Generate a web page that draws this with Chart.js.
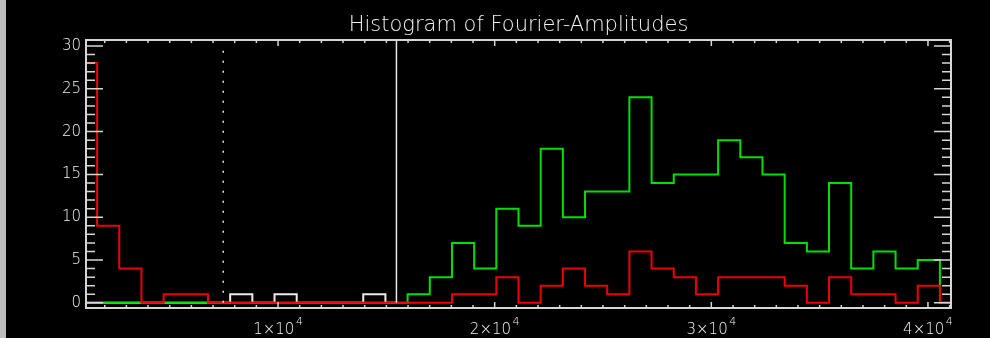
<!DOCTYPE html>
<html>
<head>
<meta charset="utf-8">
<script src="https://cdn.jsdelivr.net/npm/chart.js@4/dist/chart.umd.min.js"></script>
<style>
  html, body { margin: 0; padding: 0; background: #000; }
  canvas { display: block; }
</style>
</head>
<body>
<canvas id="hist" width="990" height="338"></canvas>
<script>
// Bin centres of the amplitude histogram (40 bins)
const binCenters = [
  1135, 2159, 3183, 4206, 5230, 6254, 7278, 8302, 9325, 10349,
  11373, 12397, 13421, 14444, 15468, 16492, 17516, 18540, 19563, 20587,
  21611, 22635, 23659, 24682, 25706, 26730, 27754, 28778, 29801, 30825,
  31849, 32873, 33897, 34920, 35944, 36968, 37992, 39016, 40039, 41063
];

// Counts per bin for each of the three histograms
const redCounts = [
  28, 9, 4, 0, 1, 1, 0, 0, 0, 0,
  0, 0, 0, 0, 0, 0, 0, 1, 1, 3,
  0, 2, 4, 2, 1, 6, 4, 3, 1, 3,
  3, 3, 2, 0, 3, 1, 1, 0, 2, 0
];
const greenCounts = [
  0, 0, 0, 0, 0, 0, 0, 0, 0, 0,
  0, 0, 0, 0, 0, 1, 3, 7, 4, 11,
  9, 18, 10, 13, 13, 24, 14, 15, 15, 19,
  17, 15, 7, 6, 14, 4, 6, 4, 5, 0
];
// the white histogram only covers amplitudes below the solid threshold
const whiteCounts = [
  0, 0, 0, 0, 0, 0, 0, 1, 0, 1,
  0, 0, 0, 1, 0
];

// Tick values and threshold markers
const xTickValues = [10000, 20000, 30000, 40000];
const yTickValues = [0, 5, 10, 15, 20, 25, 30];
const dottedMarker = 7470;
const solidMarker = 15465;
const titleText = 'Histogram of Fourier-Amplitudes';

const xRange = [1135, 41063];
const yRange = [-0.6, 30.7];

const TEXT = '#f4f4f4';
const AXIS = '#d6d6d6';
const FONT = '"DejaVu Sans", sans-serif';
const WEIGHT = '200';

function series(counts) {
  return counts.map((c, i) => ({ x: binCenters[i], y: c }));
}

// Background, boxed axes with inward ticks, markers, title and x labels
const idlFrame = {
  id: 'idlFrame',
  beforeDraw(chart) {
    const ctx = chart.ctx;
    ctx.save();
    ctx.fillStyle = '#000';
    ctx.fillRect(0, 0, chart.width, chart.height);
    ctx.fillStyle = '#bdbdbd';
    ctx.fillRect(0, 0, 6, chart.height);
    ctx.restore();
  },
  afterDatasetsDraw(chart) {
    const ctx = chart.ctx;
    const a = chart.chartArea;
    const xs = chart.scales.x;
    const ys = chart.scales.y;
    ctx.save();

    // threshold markers
    const yZero = ys.getPixelForValue(0);
    ctx.strokeStyle = '#e6e6e6';
    ctx.lineWidth = 1.5;
    let px = xs.getPixelForValue(solidMarker);
    ctx.beginPath();
    ctx.moveTo(px, yZero);
    ctx.lineTo(px, a.top);
    ctx.stroke();
    px = xs.getPixelForValue(dottedMarker);
    ctx.setLineDash([2, 8]);
    ctx.beginPath();
    ctx.moveTo(px, yZero);
    ctx.lineTo(px, a.top + 3);
    ctx.stroke();
    ctx.setLineDash([]);

    // frame
    ctx.strokeStyle = AXIS;
    ctx.lineWidth = 2;
    ctx.strokeRect(a.left, a.top, a.right - a.left, a.bottom - a.top);

    // y ticks (left and right, pointing inward)
    ctx.lineWidth = 1.5;
    ctx.beginPath();
    for (let v = Math.ceil(ys.min); v <= ys.max; v++) {
      const len = v % 5 === 0 ? 17 : 9;
      const py = ys.getPixelForValue(v);
      ctx.moveTo(a.left, py); ctx.lineTo(a.left + len, py);
      ctx.moveTo(a.right, py); ctx.lineTo(a.right - len, py);
    }
    // x ticks (bottom and top, pointing inward)
    for (let v = Math.ceil(xs.min / 1000) * 1000; v <= xs.max; v += 1000) {
      const len = v % 10000 === 0 ? 6 : 3;
      const pxx = xs.getPixelForValue(v);
      ctx.moveTo(pxx, a.bottom); ctx.lineTo(pxx, a.bottom - len);
      ctx.moveTo(pxx, a.top); ctx.lineTo(pxx, a.top + len);
    }
    ctx.stroke();

    // x tick labels written as m×10^4
    ctx.fillStyle = TEXT;
    ctx.textBaseline = 'alphabetic';
    ctx.textAlign = 'left';
    xs.ticks.forEach(t => {
      const exp = Math.floor(Math.log10(t.value));
      const mant = Math.round(t.value / Math.pow(10, exp));
      const main = mant + '\u00d710';
      const sup = String(exp);
      ctx.font = WEIGHT + ' 15px ' + FONT;
      const wMain = ctx.measureText(main).width;
      ctx.font = WEIGHT + ' 11px ' + FONT;
      const wSup = ctx.measureText(sup).width;
      const total = wMain + 1.5 + wSup;
      const cx = xs.getPixelForValue(t.value);
      const x0 = cx - total / 2;
      ctx.font = WEIGHT + ' 15px ' + FONT;
      ctx.fillText(main, x0, 334);
      ctx.font = WEIGHT + ' 11px ' + FONT;
      ctx.fillText(sup, x0 + wMain + 1.5, 325);
    });

    // title
    ctx.font = WEIGHT + ' 21px ' + FONT;
    ctx.textAlign = 'center';
    ctx.fillText(titleText, (a.left + a.right) / 2, 31);

    ctx.restore();
  }
};

const lineStyle = {
  stepped: 'middle',
  borderWidth: 2,
  pointRadius: 0,
  fill: false,
  borderJoinStyle: 'miter',
  borderCapStyle: 'butt'
};

new Chart(document.getElementById('hist'), {
  type: 'line',
  data: {
    datasets: [
      Object.assign({ label: 'red', data: series(redCounts), borderColor: '#ee0000', order: 0 }, lineStyle),
      Object.assign({ label: 'green', data: series(greenCounts), borderColor: '#00e000', order: 1 }, lineStyle),
      Object.assign({ label: 'white', data: series(whiteCounts), borderColor: '#ececec', order: 2 }, lineStyle)
    ]
  },
  options: {
    responsive: false,
    animation: false,
    devicePixelRatio: 1,
    layout: { padding: { top: 40, right: 39, left: 0, bottom: 0 } },
    plugins: {
      legend: { display: false },
      tooltip: { enabled: false },
      title: { display: false }
    },
    scales: {
      x: {
        type: 'linear',
        min: xRange[0],
        max: xRange[1],
        grid: { display: false, drawTicks: false },
        border: { display: false },
        ticks: { display: false, includeBounds: false },
        afterBuildTicks: s => { s.ticks = xTickValues.map(v => ({ value: v })); },
        afterFit: s => { s.height = 30; }
      },
      y: {
        type: 'linear',
        min: yRange[0],
        max: yRange[1],
        grid: { display: false, drawTicks: false },
        border: { display: false },
        ticks: {
          includeBounds: false,
          color: TEXT,
          padding: 5,
          font: { family: FONT, size: 15, weight: WEIGHT }
        },
        afterBuildTicks: s => { s.ticks = yTickValues.map(v => ({ value: v })); },
        afterFit: s => { s.width = 86; }
      }
    }
  },
  plugins: [idlFrame]
});
</script>
</body>
</html>
